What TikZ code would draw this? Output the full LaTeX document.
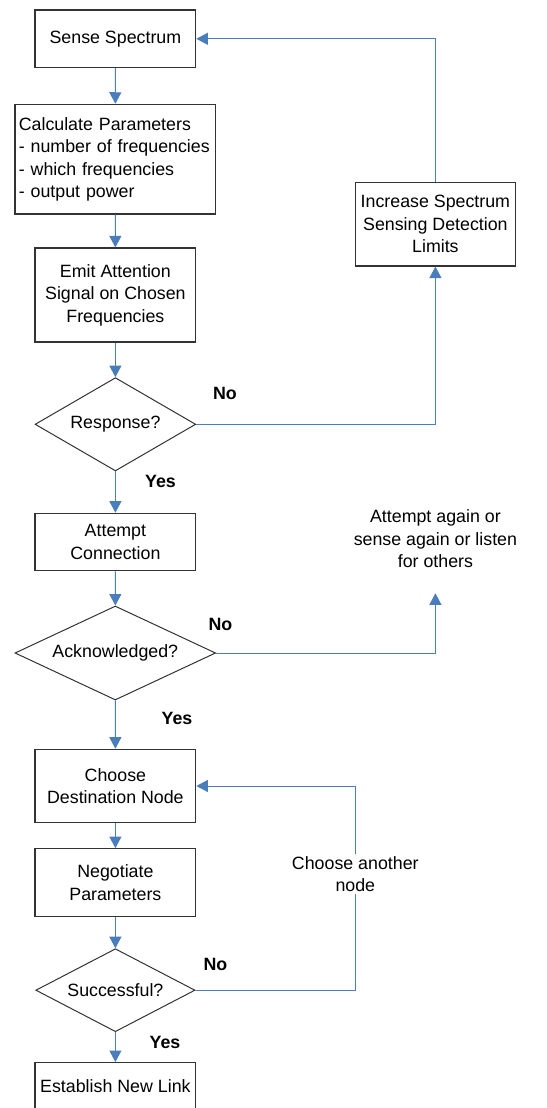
\documentclass[tikz,border=0pt]{standalone}
\usepackage{fontspec}
\setmainfont{Liberation Sans}
\usetikzlibrary{arrows.meta,shapes.geometric}
\definecolor{flowblue}{RGB}{74,126,187}
\begin{document}
\begin{tikzpicture}[x=1pt,y=-1pt,>={Triangle[width=12pt,length=11.5pt]},
  font=\fontsize{17.8}{22.5}\selectfont,
  box/.style={draw=black!80,line width=1.2pt,rectangle,align=center,inner sep=0pt},
  decision/.style={draw=black!80,line width=1pt,diamond,shape aspect=2,inner sep=0pt},
  flow/.style={->,draw=flowblue,line width=1pt},
  answer/.style={font=\fontsize{17.8}{22.5}\selectfont\bfseries}]
\useasboundingbox (0,0) rectangle (546,1108);
\node[box,minimum width=160.7pt,minimum height=57.7pt] (sense) at (115.4,38.8) {Sense Spectrum};
\node[box,minimum width=200.7pt,minimum height=109.7pt,text width=193pt,align=left] (calc) at (115.3,159.2) {Calculate Parameters\\- number of frequencies\\- which frequencies\\- output power};
\node[box,minimum width=160.7pt,minimum height=94pt] (emit) at (115.4,295) {Emit Attention\\Signal on Chosen\\Frequencies};
\node[box,minimum width=160.5pt,minimum height=83.3pt] (incr) at (435.4,224.3) {Increase Spectrum\\Sensing Detection\\Limits};
\node[decision,minimum width=160.7pt,minimum height=93.3pt] (resp) at (115.4,424.3) {Response?};
\node[box,minimum width=160.7pt,minimum height=57.4pt] (att) at (115.4,542) {Attempt\\Connection};
\node[decision,minimum width=200.7pt,minimum height=94pt] (ack) at (115.3,653) {Acknowledged?};
\node[align=center,inner sep=0pt] (again) at (435.4,539) {Attempt again or\\sense again or listen\\for others};
\coordinate (retry) at (435.4,593.3);
\node[box,minimum width=160.7pt,minimum height=73.4pt] (dest) at (115.4,786) {Choose\\Destination Node};
\node[box,minimum width=160.7pt,minimum height=68pt] (neg) at (115.4,882.7) {Negotiate\\Parameters};
\node[decision,minimum width=159.3pt,minimum height=83pt] (succ) at (115.4,990.2) {Successful?};
\node[align=center,inner sep=2pt] (another) at (355.3,874.3) {Choose another\\node};
\node[box,minimum width=160.7pt,minimum height=46.5pt] (est) at (115.4,1085.9) {Establish New Link};
% answers
\node[answer] (no1) at (225,393) {No};
\node[answer] (yes1) at (160.5,481) {Yes};
\node[answer] (no2) at (220.5,624) {No};
\node[answer] (yes2) at (177,718) {Yes};
\node[answer] (no3) at (215.5,964) {No};
\node[answer] (yes3) at (165,1042) {Yes};
% main path
\draw[flow] (sense) -- (calc);
\draw[flow] (calc) -- (emit);
\draw[flow] (emit) -- (resp);
\draw[flow] (resp) -- (att);
\draw[flow] (att) -- (ack);
\draw[flow] (ack) -- (dest);
\draw[flow] (dest) -- (neg);
\draw[flow] (neg) -- (succ);
\draw[flow] (succ) -- (est);
% loops
\draw[flow] (resp.east) -| (incr.south);
\draw[flow] (incr.north) |- (sense.east);
\draw[flow] (ack.east) -| (retry);
\draw[draw=flowblue,line width=1pt] (succ.east) -| (another.south);
\draw[flow] (another.north) |- (dest.east);
\end{tikzpicture}
\end{document}
